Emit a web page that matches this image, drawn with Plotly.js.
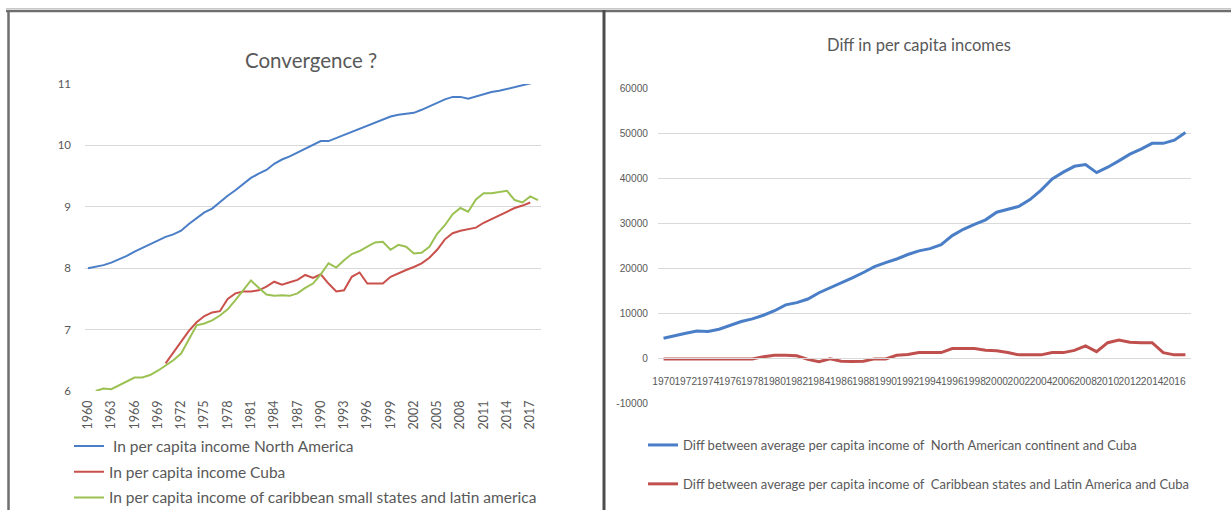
<!DOCTYPE html>
<html>
<head>
<meta charset="utf-8">
<script src="https://cdn.plot.ly/plotly-3.0.1.min.js"></script>
<style>html,body{margin:0;padding:0;background:#fff;overflow:hidden;width:1231px;height:510px;}#chart{width:1231px;height:510px;overflow:hidden;}</style>
</head>
<body>
<div id="chart"></div>
<script>
// ---- Left chart: ln per capita income ----
const yearsNA = [1960,1961,1962,1963,1964,1965,1966,1967,1968,1969,1970,1971,1972,1973,1974,1975,1976,1977,1978,1979,1980,1981,1982,1983,1984,1985,1986,1987,1988,1989,1990,1991,1992,1993,1994,1995,1996,1997,1998,1999,2000,2001,2002,2003,2004,2005,2006,2007,2008,2009,2010,2011,2012,2013,2014,2015,2016,2017,2018];
const lnNA = [8.00,8.02,8.05,8.09,8.14,8.20,8.27,8.33,8.39,8.45,8.51,8.55,8.61,8.72,8.82,8.91,8.97,9.08,9.18,9.27,9.37,9.47,9.54,9.60,9.70,9.77,9.82,9.88,9.95,10.01,10.07,10.07,10.12,10.17,10.22,10.26,10.31,10.36,10.41,10.47,10.50,10.51,10.53,10.58,10.64,10.70,10.75,10.79,10.79,10.76,10.80,10.83,10.87,10.89,10.92,10.94,10.97,11.00,11.04];

const yearsCuba = [1970,1971,1972,1973,1974,1975,1976,1977,1978,1979,1980,1981,1982,1983,1984,1985,1986,1987,1988,1989,1990,1991,1992,1993,1994,1995,1996,1997,1998,1999,2000,2001,2002,2003,2004,2005,2006,2007,2008,2009,2010,2011,2012,2013,2014,2015,2016,2017];
const lnCuba = [6.45,6.62,6.80,6.98,7.12,7.22,7.28,7.30,7.50,7.59,7.62,7.62,7.64,7.70,7.78,7.73,7.77,7.81,7.89,7.84,7.90,7.75,7.62,7.64,7.86,7.93,7.75,7.75,7.75,7.86,7.92,7.97,8.02,8.08,8.17,8.30,8.47,8.57,8.61,8.63,8.66,8.74,8.80,8.86,8.91,8.98,9.02,9.07];

const yearsLat = [1961,1962,1963,1964,1965,1966,1967,1968,1969,1970,1971,1972,1973,1974,1975,1976,1977,1978,1979,1980,1981,1982,1983,1984,1985,1986,1987,1988,1989,1990,1991,1992,1993,1994,1995,1996,1997,1998,1999,2000,2001,2002,2003,2004,2005,2006,2007,2008,2009,2010,2011,2012,2013,2014,2015,2016,2017,2018];
const lnLat = [6.00,6.04,6.03,6.09,6.15,6.22,6.22,6.26,6.33,6.41,6.50,6.61,6.83,7.07,7.10,7.15,7.23,7.33,7.48,7.65,7.80,7.68,7.57,7.55,7.56,7.55,7.59,7.68,7.75,7.90,8.08,8.01,8.13,8.23,8.28,8.35,8.42,8.43,8.30,8.38,8.35,8.24,8.25,8.35,8.56,8.70,8.88,8.98,8.92,9.12,9.22,9.22,9.24,9.26,9.11,9.07,9.17,9.11];

const leftXTicks = [1960,1963,1966,1969,1972,1975,1978,1981,1984,1987,1990,1993,1996,1999,2002,2005,2008,2011,2014,2017];
const leftYTicks = [6,7,8,9,10,11];

// ---- Right chart: differences in per capita income ----
const yearsDiff = [1970,1971,1972,1973,1974,1975,1976,1977,1978,1979,1980,1981,1982,1983,1984,1985,1986,1987,1988,1989,1990,1991,1992,1993,1994,1995,1996,1997,1998,1999,2000,2001,2002,2003,2004,2005,2006,2007,2008,2009,2010,2011,2012,2013,2014,2015,2016,2017];
const diffNA = [4400,5000,5500,6000,5900,6400,7300,8100,8700,9500,10500,11800,12300,13100,14500,15600,16600,17800,19000,20300,21200,22000,23000,23800,24300,25200,27200,28600,29700,30700,32400,33100,33700,35200,37300,39800,41300,42600,43000,41200,42400,43800,45300,46400,47700,47700,48400,50100];
const diffLat = [-200,-200,-200,-200,-200,-200,-200,-200,-200,300,600,600,500,-300,-800,-200,-700,-800,-700,-200,-200,600,800,1200,1200,1200,2100,2100,2100,1700,1600,1200,700,700,700,1200,1200,1700,2700,1400,3400,4000,3500,3400,3400,1200,700,700];

const rightXTicks = [1970,1972,1974,1976,1978,1980,1982,1984,1986,1988,1990,1992,1994,1996,1998,2000,2002,2004,2006,2008,2010,2012,2014,2016];
const rightYTicks = [-10000,0,10000,20000,30000,40000,50000,60000];

const names = {
  na: ' In per capita income North America',
  cuba: 'In per capita income Cuba',
  lat: 'In per capita income of caribbean small states and latin america',
  dNA: 'Diff between average per capita income of  North American continent and Cuba',
  dLat: 'Diff between average per capita income of  Caribbean states and Latin America and Cuba'
};
const titles = {left: 'Convergence ?', right: 'Diff in per capita incomes'};

// The figure is drawn a little taller than the 510px view (clipped by the container)
// so that the legends near the bottom never force Plotly to shrink the plot area.
const W = 1231, H = 510, HFIG = 540;
const M = {l: 0, t: 0, r: 40, b: 40};
const PW = W - M.l - M.r, PH = HFIG - M.t - M.b;
const px = v => (v - M.l) / PW;
const py = v => 1 - (v - M.t) / PH;

const gray = '#595959';
const sans = 'Lato, "Open Sans", sans-serif';
const lib = '"Liberation Sans", Arial, sans-serif';

const traces = [
  {x: yearsNA, y: lnNA, name: names.na, type: 'scatter', mode: 'lines', line: {color: '#4A7EC7', width: 2}, xaxis: 'x', yaxis: 'y', legend: 'legend', legendgroup: 'a'},
  {x: yearsCuba, y: lnCuba, name: names.cuba, type: 'scatter', mode: 'lines', line: {color: '#C9504B', width: 2}, xaxis: 'x', yaxis: 'y', legend: 'legend', legendgroup: 'b'},
  {x: yearsLat, y: lnLat, name: names.lat, type: 'scatter', mode: 'lines', line: {color: '#9BC153', width: 2}, xaxis: 'x', yaxis: 'y', legend: 'legend', legendgroup: 'c'},
  {x: yearsDiff, y: diffNA, name: names.dNA, type: 'scatter', mode: 'lines', line: {color: '#4A7EC7', width: 3}, xaxis: 'x2', yaxis: 'y2', legend: 'legend2', legendgroup: 'd'},
  {x: yearsDiff, y: diffLat, name: names.dLat, type: 'scatter', mode: 'lines', line: {color: '#C0504D', width: 3}, xaxis: 'x2', yaxis: 'y2', legend: 'legend2', legendgroup: 'e'}
];

const layout = {
  width: W, height: HFIG,
  margin: M,
  paper_bgcolor: '#fff', plot_bgcolor: '#fff',
  showlegend: true,
  xaxis: {
    domain: [px(85), px(541)], range: [1959.613, 2018.387],
    tickmode: 'array', tickvals: leftXTicks, ticktext: leftXTicks.map(String),
    tickangle: -90, showgrid: false, zeroline: false, showline: false, ticks: '', ticklen: 0,
    tickfont: {family: sans, size: 12.5, color: gray}, ticklabelstandoff: 6,
    anchor: 'y', automargin: false, fixedrange: true
  },
  yaxis: {
    domain: [py(391), py(84)], range: [6, 11],
    tickmode: 'array', tickvals: leftYTicks, ticktext: leftYTicks.map(String),
    gridcolor: '#D9D9D9', gridwidth: 1, zeroline: false, showline: false, ticks: '', ticklen: 0,
    tickfont: {family: sans, size: 11.5, color: gray}, ticklabelstandoff: 13,
    anchor: 'x', automargin: false, fixedrange: true
  },
  xaxis2: {
    domain: [px(658), px(1213)], range: [1969.5, 2017.5],
    tickmode: 'array', tickvals: rightXTicks, ticktext: rightXTicks.map(String),
    tickangle: 0, showgrid: false, zeroline: false, showline: true, linecolor: '#D9D9D9', ticks: '', ticklen: 0,
    tickfont: {family: lib, size: 10.2, color: gray}, ticklabelstandoff: 14,
    anchor: 'free', position: py(358), automargin: false, fixedrange: true
  },
  yaxis2: {
    domain: [py(403), py(88)], range: [-10000, 60000],
    tickmode: 'array', tickvals: rightYTicks, ticktext: rightYTicks.map(String),
    gridcolor: '#D9D9D9', gridwidth: 1, zeroline: false, showline: false, ticks: '', ticklen: 0,
    tickfont: {family: lib, size: 10.2, color: gray}, ticklabelstandoff: 9,
    anchor: 'x2', automargin: false, fixedrange: true
  },
  legend: {
    x: px(69), y: py(429.5), xanchor: 'left', yanchor: 'top',
    orientation: 'v', tracegroupgap: 2.5, bgcolor: 'rgba(0,0,0,0)',
    font: {family: sans, size: 15.5, color: gray}, itemclick: false
  },
  legend2: {
    x: px(643), y: py(430), xanchor: 'left', yanchor: 'top',
    orientation: 'v', tracegroupgap: 19, bgcolor: 'rgba(0,0,0,0)',
    font: {family: sans, size: 13, color: gray}, itemclick: false
  },
  annotations: [
    {text: titles.left, xref: 'paper', yref: 'paper', x: px(311), y: py(60), xanchor: 'center', yanchor: 'middle', showarrow: false, font: {family: sans, size: 20.5, color: gray}},
    {text: titles.right, xref: 'paper', yref: 'paper', x: px(919), y: py(45), xanchor: 'center', yanchor: 'middle', showarrow: false, font: {family: sans, size: 16.5, color: gray}}
  ],
  shapes: [
    {type: 'line', xref: 'paper', yref: 'paper', x0: px(6), x1: px(W), y0: py(11), y1: py(11), line: {color: '#6E6E6E', width: 2.5}},
    {type: 'line', xref: 'paper', yref: 'paper', x0: px(6), x1: px(W), y0: py(8.5), y1: py(8.5), line: {color: '#C8C8C8', width: 1}},
    {type: 'line', xref: 'paper', yref: 'paper', x0: px(8.5), x1: px(8.5), y0: py(HFIG), y1: py(10), line: {color: '#6E6E6E', width: 2.5}},
    {type: 'line', xref: 'paper', yref: 'paper', x0: px(604), x1: px(604), y0: py(HFIG), y1: py(10), line: {color: '#4D4D4D', width: 3}}
  ]
};

Plotly.newPlot('chart', traces, layout, {displayModeBar: false, staticPlot: true});
</script>
</body>
</html>
